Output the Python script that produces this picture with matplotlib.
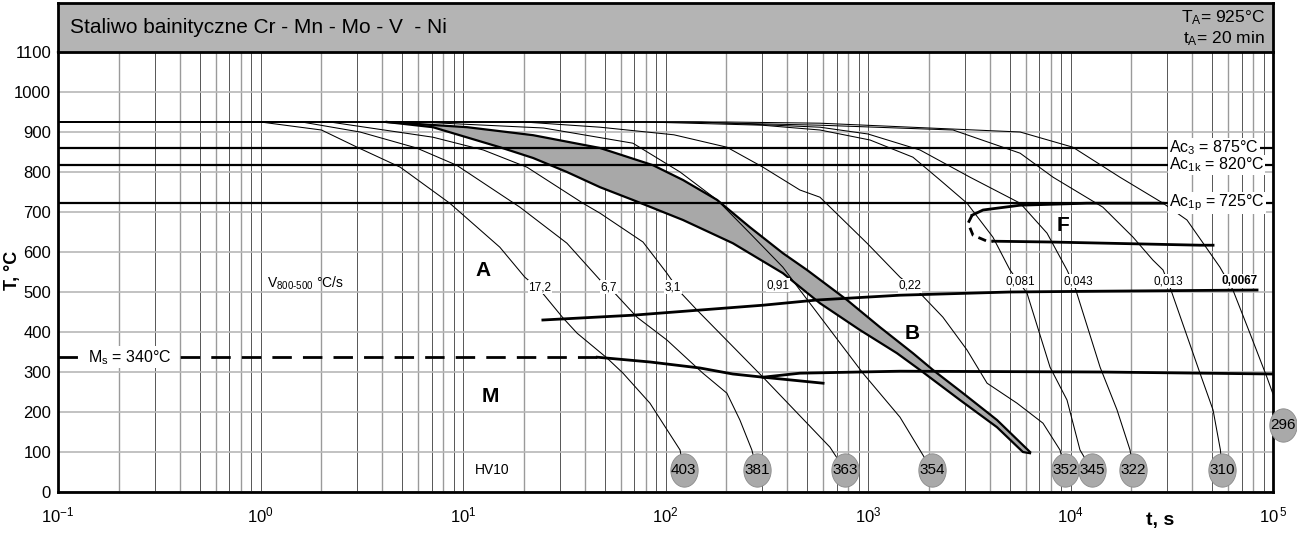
import numpy as np
import matplotlib
matplotlib.use("Agg")
import matplotlib.pyplot as plt
from matplotlib.ticker import LogLocator, NullFormatter

plt.rcParams['font.family'] = ['Liberation Sans', 'DejaVu Sans']
plt.rcParams['mathtext.fontset'] = 'custom'
plt.rcParams['mathtext.rm'] = 'Liberation Sans'
plt.rcParams['mathtext.it'] = 'Liberation Sans:italic'
plt.rcParams['mathtext.bf'] = 'Liberation Sans:bold'

# ---------------- data ----------------
T_A = 925
t_left = 0.1

# cooling curves (t [s], T [°C]) and their v800-500 labels
rate_labels = ["17,2", "6,7", "3,1", "0,91", "0,22", "0,081", "0,043", "0,013", "0,0067"]
c1_t = [1.0, 2.0, 3.0, 4.9, 8.6, 15.2, 20.2, 24.0, 31.2, 36.6, 51.4, 61.7, 83.8, 118, 123]
c1_T = [925, 905, 862, 812, 722, 612, 537, 505, 435, 397, 335, 297, 222, 105, 55]
c2_t = [1.6, 3.1, 5.9, 9.3, 19.1, 32.6, 47.5, 53.2, 72.3, 101.6, 153, 201, 233, 267, 283]
c2_T = [925, 900, 860, 817, 712, 622, 530, 510, 437, 380, 297, 247, 180, 105, 55]
c3_t = [2.2, 7.1, 12.6, 20.7, 39.1, 47.5, 77.4, 101.6, 118, 143, 303, 649, 769]
c3_T = [925, 887, 855, 812, 722, 697, 625, 547, 500, 455, 287, 112, 55]
c4_t = [6, 25, 69, 118, 180, 261, 380, 461, 944, 1439, 2070]
c4_T = [925, 910, 872, 800, 730, 647, 562, 505, 297, 187, 55]
c5_t = [20, 47.5, 110, 201, 303, 461, 579, 672, 989, 1439, 1807, 2344, 3083, 3873, 5445, 7315, 8875, 9400]
c5_T = [925, 912, 893, 862, 812, 755, 737, 705, 622, 537, 497, 437, 355, 272, 222, 172, 105, 55]
c6_t = [80, 300, 579, 1023, 1667, 2268, 3083, 4140, 5025, 6100, 7925, 9610, 11140, 12760]
c6_T = [925, 917, 905, 880, 837, 780, 722, 637, 555, 497, 312, 230, 105, 55]
c7_t = [150, 579, 1000, 1807, 3190, 5640, 7660, 9610, 10520, 14000, 16980, 19680, 20370]
c7_T = [925, 912, 895, 855, 787, 722, 647, 555, 512, 312, 205, 105, 55]
c8_t = [120, 579, 2630, 5640, 8200, 14450, 20370, 25500, 28640, 30990, 43600, 50580, 55000, 56000]
c8_T = [925, 917, 905, 847, 787, 712, 637, 580, 555, 512, 297, 205, 105, 55]
c9_t = [200, 579, 5640, 10270, 17540, 28640, 37600, 54700, 63400, 76900, 93300, 100000]
c9_T = [925, 922, 900, 862, 787, 722, 680, 562, 505, 397, 287, 245]

label_t = [24.0, 52.6, 109, 359, 1611, 5640, 10890, 30300, 68700]
label_T = [512, 512, 512, 517, 515, 527, 527, 527, 527]

# hardness HV10 at curve ends
hv_values = ["403", "381", "363", "354", "352", "345", "322", "310", "296"]
hv_t = [123, 283, 769, 2070, 9400, 12760, 20370, 56000, 112000]
hv_T = [55, 55, 55, 55, 55, 55, 55, 55, 167]

# transformation band (gray)
bandU_t = [4.2, 10.5, 22.2, 47.5, 86.7, 122, 180, 261, 380, 500, 788, 1146, 1667, 2094, 2946, 4335, 6310]
bandU_T = [925, 912, 892, 860, 817, 780, 730, 662, 597, 555, 480, 412, 347, 305, 247, 180, 100]
bandL_t = [4.2, 7.1, 15.2, 22.2, 32.6, 47.5, 69.1, 122, 215, 380, 579, 912, 1390, 1807, 2845, 4335, 5820, 6310]
bandL_T = [925, 912, 862, 835, 800, 762, 730, 680, 622, 547, 472, 405, 347, 305, 230, 162, 100, 97]

# bainite start line
bs_t = [24.8, 69.1, 303, 560, 1439, 5025, 14000, 83400]
bs_T = [430, 442, 467, 480, 492, 500, 502, 505]

# Ms and martensite/bainite lines
Ms_T = 337
ms_dash_t = [0.1, 46]
mf_t = [46, 84, 148, 215, 303, 600]
mf_T = [337, 325, 310, 295, 287, 272]
bf_t = [303, 461, 1439, 14000, 100000]
bf_T = [287, 297, 302, 300, 295]

# ferrite
fs_t = [3266, 3700, 5640, 12050, 28640]
fs_T = [692, 705, 717, 722, 722]
fsd_t = [3266, 3120, 3300, 3873, 4140]
fsd_T = [692, 672, 642, 627, 627]
fe_t = [4140, 7925, 43600, 50580]
fe_T = [627, 625, 617, 617]

# critical temperatures (drawn position, label)
ac_T = [860, 817.5, 722.5]
ac_labels = [r"Ac$_\mathrm{3}$ = 875°C", r"Ac$_\mathrm{1k}$ = 820°C", r"Ac$_\mathrm{1p}$ = 725°C"]

x_ticks = [1e-1, 1e0, 1e1, 1e2, 1e3, 1e4, 1e5]
x_ticklabels = [r"$10^{-1}$", r"$10^{0}$", r"$10^{1}$", r"$10^{2}$", r"$10^{3}$", r"$10^{4}$", r"$10^{\,5}$"]
y_ticks = list(range(0, 1101, 100))

# ---------------- figure ----------------
W, H = 1297, 536
fig = plt.figure(figsize=(W / 100, H / 100), dpi=100)
L, R, B, TOP, HTOP = 58, 1273, 492, 52, 3
ax = fig.add_axes([L / W, 1 - B / H, (R - L) / W, (B - TOP) / H])
hx = fig.add_axes([L / W, 1 - TOP / H, (R - L) / W, (TOP - HTOP) / H])

ax.set_xscale('log')
ax.set_xlim(0.1, 1e5)
ax.set_ylim(0, 1100)

# grid
for d in range(-1, 5):
    for k in range(1, 10):
        v = k * 10.0 ** d
        if v <= 0.1:
            continue
        ax.axvline(v, color='#3a3a3a' if k % 2 else '#9a9a9a', lw=0.6 if k % 2 else 1.0, zorder=0)
for yv in y_ticks:
    ax.axhline(yv, color='#b8b8b8', lw=1.2, zorder=0)

ax.set_xticks(x_ticks)
ax.set_xticklabels(x_ticklabels, fontsize=12)
ax.xaxis.set_minor_locator(LogLocator(base=10, subs=np.arange(2, 10)))
ax.xaxis.set_minor_formatter(NullFormatter())
ax.set_yticks(y_ticks)
ax.set_yticklabels([str(v) for v in y_ticks], fontsize=12)
ax.tick_params(axis='both', which='both', length=0)
ax.tick_params(axis='x', pad=10)
ax.tick_params(axis='y', pad=5)
for s in ax.spines.values():
    s.set_linewidth(2.0)
ax.spines['top'].set_linewidth(1.6)

# cooling curves
curves = [(c1_t, c1_T), (c2_t, c2_T), (c3_t, c3_T), (c4_t, c4_T), (c5_t, c5_T),
          (c6_t, c6_T), (c7_t, c7_T), (c8_t, c8_T), (c9_t, c9_T)]
for ct, cT in curves:
    ax.plot([t_left] + list(ct), [T_A] + list(cT), color='black', lw=0.75, zorder=2,
            solid_joinstyle='round')

# band
ax.fill(list(bandU_t) + list(bandL_t[::-1]), list(bandU_T) + list(bandL_T[::-1]),
        color='#a8a8a8', zorder=1.5, lw=0)
ax.plot(bandU_t, bandU_T, color='black', lw=1.6, zorder=3, solid_joinstyle='round')
ax.plot(bandL_t, bandL_T, color='black', lw=1.6, zorder=3, solid_joinstyle='round')

# Ac lines
for T, lab in zip(ac_T, ac_labels):
    ax.axhline(T, color='black', lw=1.6, zorder=3)
    ax.text(30600, T, lab, fontsize=11.5, ha='left', va='center', zorder=4,
            bbox=dict(facecolor='white', edgecolor='none', pad=0.8))

# bainite start, martensite lines
ax.plot(bs_t, bs_T, color='black', lw=2.0, zorder=3)
ax.plot(ms_dash_t, [Ms_T, Ms_T], color='black', lw=2.0, ls=(0, (7, 4)), zorder=3)
ax.plot(mf_t, mf_T, color='black', lw=2.0, zorder=3)
ax.plot(bf_t, bf_T, color='black', lw=2.0, zorder=3)
ax.text(0.1406, Ms_T, r"M$_\mathrm{s}$ = 340°C", fontsize=11.5, ha='left', va='center', zorder=4,
        bbox=dict(facecolor='white', edgecolor='none', pad=1.0))

# ferrite
ax.plot(fs_t, fs_T, color='black', lw=2.0, zorder=3)
ax.plot(fsd_t, fsd_T, color='black', lw=2.0, ls=(0, (3, 2)), zorder=3)
ax.plot(fe_t, fe_T, color='black', lw=2.0, zorder=3)

# rate labels
for lt, lT, lab in zip(label_t, label_T, rate_labels):
    ax.text(lt, lT, lab, fontsize=8.5, ha='center', va='center', zorder=4,
            fontweight='bold' if lab == "0,0067" else 'normal',
            bbox=dict(facecolor='white', edgecolor='none', pad=0.6))

ax.text(1.66, 522, r"V$_\mathrm{800\text{-}500}$ °C/s", fontsize=10, ha='center', va='center', zorder=4)

# phase letters
for lt, lT, lab in [(12.6, 555, "A"), (1648, 397, "B"), (13.6, 240, "M"), (9180, 667, "F")]:
    ax.text(lt, lT, lab, fontsize=15, fontweight='bold', ha='center', va='center', zorder=4)
ax.text(13.9, 55, "HV10", fontsize=10, ha='center', va='center', zorder=4)

# hardness circles
th = np.linspace(0, 2 * np.pi, 80)
ell = np.column_stack([0.82 * np.cos(th), np.sin(th)])
for hv, ht, hT in zip(hv_values, hv_t, hv_T):
    ax.plot([ht], [hT], marker=ell, ms=24, color='#a9a9a9', markeredgecolor='#8a8a8a',
            markeredgewidth=0.6, zorder=5, clip_on=False, ls='none')
    ax.text(ht, hT, hv, fontsize=11, ha='center', va='center', zorder=6, clip_on=False,
            family=['Liberation Sans Narrow', 'Liberation Sans'])

# axis labels
fig.text(12 / W, 1 - 270 / H, "T, °C", rotation=90, fontsize=13, fontweight='bold',
         ha='center', va='center')
fig.text(1160 / W, 1 - 520 / H, "t, s", fontsize=14, fontweight='bold', ha='center', va='center')

# header
hx.set_facecolor('#b4b4b4')
hx.set_xticks([])
hx.set_yticks([])
hx.set_xlim(0, 1)
hx.set_ylim(0, 1)
for s in hx.spines.values():
    s.set_linewidth(2.0)
hx.text(12 / (R - L), 0.5, "Staliwo bainityczne Cr - Mn - Mo - V  - Ni", fontsize=15,
        ha='left', va='center')
hx.text(1 - 8 / (R - L), 0.71, r"T$_\mathrm{A}$= 925°C", fontsize=12.5, ha='right', va='center')
hx.text(1 - 8 / (R - L), 0.27, r"t$_\mathrm{A}$= 20 min", fontsize=12.5, ha='right', va='center')

fig.savefig("out.png", dpi=100)
